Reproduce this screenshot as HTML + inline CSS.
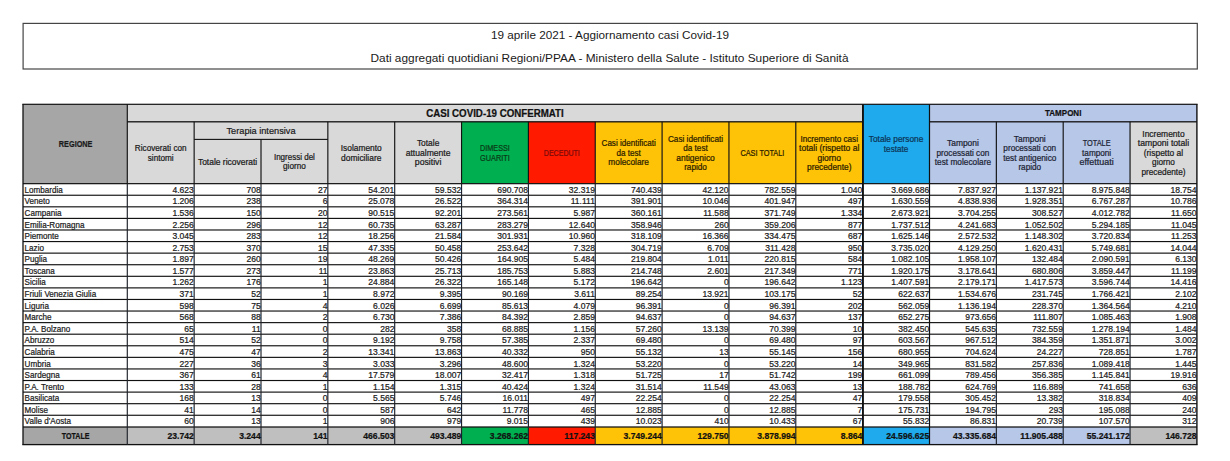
<!DOCTYPE html>
<html><head><meta charset="utf-8"><style>
html,body{margin:0;padding:0;background:#fff;}
body{width:1230px;height:461px;overflow:hidden;position:relative;}
svg{position:absolute;left:0;top:0;font-family:"Liberation Sans",sans-serif;}
text{stroke-width:0.22px;paint-order:stroke;}
</style></head><body>
<svg width="1230" height="461" viewBox="0 0 1230 461">
<rect x="0" y="0" width="1230" height="461" fill="#fff"/>
<rect x="23.1" y="23.4" width="1174.2" height="45.6" fill="none" stroke="#454545" stroke-width="1.2"/>
<text x="610" y="38.8" font-size="10.8" text-anchor="middle" fill="#1a1a1a" textLength="238" lengthAdjust="spacingAndGlyphs">19 aprile 2021 - Aggiornamento casi Covid-19</text>
<text x="609.5" y="61.8" font-size="10.5" text-anchor="middle" fill="#1a1a1a" textLength="478" lengthAdjust="spacingAndGlyphs">Dati aggregati quotidiani Regioni/PPAA - Ministero della Salute - Istituto Superiore di Sanità</text>
<rect x="23.0" y="104.3" width="104.30" height="79.36" fill="#a6a6a6"/>
<rect x="127.3" y="104.3" width="735.35" height="17.50" fill="#d9d9d9"/>
<rect x="929.4999999999999" y="104.3" width="267.40" height="17.50" fill="#b7c7e8"/>
<rect x="862.6499999999999" y="104.3" width="66.85" height="79.36" fill="#1eaaec"/>
<rect x="127.3" y="121.8" width="66.85" height="61.86" fill="#d9d9d9"/>
<rect x="194.14999999999998" y="121.8" width="66.85" height="61.86" fill="#d9d9d9"/>
<rect x="261.0" y="121.8" width="66.85" height="61.86" fill="#d9d9d9"/>
<rect x="327.84999999999997" y="121.8" width="66.85" height="61.86" fill="#d9d9d9"/>
<rect x="394.7" y="121.8" width="66.85" height="61.86" fill="#d9d9d9"/>
<rect x="461.55" y="121.8" width="66.85" height="61.86" fill="#00b050"/>
<rect x="528.4" y="121.8" width="66.85" height="61.86" fill="#ff1a00"/>
<rect x="595.2499999999999" y="121.8" width="66.85" height="61.86" fill="#fec206"/>
<rect x="662.0999999999999" y="121.8" width="66.85" height="61.86" fill="#fec206"/>
<rect x="728.9499999999999" y="121.8" width="66.85" height="61.86" fill="#fec206"/>
<rect x="795.8" y="121.8" width="66.85" height="61.86" fill="#fec206"/>
<rect x="929.4999999999999" y="121.8" width="66.85" height="61.86" fill="#b7c7e8"/>
<rect x="996.3499999999999" y="121.8" width="66.85" height="61.86" fill="#b7c7e8"/>
<rect x="1063.1999999999998" y="121.8" width="66.85" height="61.86" fill="#b7c7e8"/>
<rect x="1130.05" y="121.8" width="66.85" height="61.86" fill="#d9d9d9"/>
<rect x="23.0" y="427.0" width="104.30" height="17.60" fill="#a6a6a6"/>
<rect x="127.3" y="427.0" width="66.85" height="17.60" fill="#bfbfbf"/>
<rect x="194.14999999999998" y="427.0" width="66.85" height="17.60" fill="#bfbfbf"/>
<rect x="261.0" y="427.0" width="66.85" height="17.60" fill="#bfbfbf"/>
<rect x="327.84999999999997" y="427.0" width="66.85" height="17.60" fill="#bfbfbf"/>
<rect x="394.7" y="427.0" width="66.85" height="17.60" fill="#bfbfbf"/>
<rect x="461.55" y="427.0" width="66.85" height="17.60" fill="#00b050"/>
<rect x="528.4" y="427.0" width="66.85" height="17.60" fill="#ff1a00"/>
<rect x="595.2499999999999" y="427.0" width="66.85" height="17.60" fill="#fec206"/>
<rect x="662.0999999999999" y="427.0" width="66.85" height="17.60" fill="#fec206"/>
<rect x="728.9499999999999" y="427.0" width="66.85" height="17.60" fill="#fec206"/>
<rect x="795.8" y="427.0" width="66.85" height="17.60" fill="#fec206"/>
<rect x="862.6499999999999" y="427.0" width="66.85" height="17.60" fill="#1eaaec"/>
<rect x="929.4999999999999" y="427.0" width="66.85" height="17.60" fill="#b7c7e8"/>
<rect x="996.3499999999999" y="427.0" width="66.85" height="17.60" fill="#b7c7e8"/>
<rect x="1063.1999999999998" y="427.0" width="66.85" height="17.60" fill="#b7c7e8"/>
<rect x="1130.05" y="427.0" width="66.85" height="17.60" fill="#bfbfbf"/>
<rect x="22.3" y="103.70" width="1175.3" height="1.2" fill="#111"/>
<rect x="127.3" y="121.15" width="735.3499999999999" height="1.3" fill="#111"/>
<rect x="929.4999999999999" y="121.15" width="267.4" height="1.3" fill="#111"/>
<rect x="194.14999999999998" y="138.85" width="133.7" height="1.1" fill="#111"/>
<rect x="23.0" y="183.06" width="1173.8999999999999" height="1.2" fill="#111"/>
<rect x="23.0" y="194.67" width="1173.8999999999999" height="1.15" fill="#111"/>
<rect x="23.0" y="206.25" width="1173.8999999999999" height="1.15" fill="#111"/>
<rect x="23.0" y="217.83" width="1173.8999999999999" height="1.15" fill="#111"/>
<rect x="23.0" y="229.41" width="1173.8999999999999" height="1.15" fill="#111"/>
<rect x="23.0" y="240.99" width="1173.8999999999999" height="1.15" fill="#111"/>
<rect x="23.0" y="252.56" width="1173.8999999999999" height="1.15" fill="#111"/>
<rect x="23.0" y="264.15" width="1173.8999999999999" height="1.15" fill="#111"/>
<rect x="23.0" y="275.73" width="1173.8999999999999" height="1.15" fill="#111"/>
<rect x="23.0" y="287.31" width="1173.8999999999999" height="1.15" fill="#111"/>
<rect x="23.0" y="298.88" width="1173.8999999999999" height="1.15" fill="#111"/>
<rect x="23.0" y="310.46" width="1173.8999999999999" height="1.15" fill="#111"/>
<rect x="23.0" y="322.05" width="1173.8999999999999" height="1.15" fill="#111"/>
<rect x="23.0" y="333.62" width="1173.8999999999999" height="1.15" fill="#111"/>
<rect x="23.0" y="345.20" width="1173.8999999999999" height="1.15" fill="#111"/>
<rect x="23.0" y="356.79" width="1173.8999999999999" height="1.15" fill="#111"/>
<rect x="23.0" y="368.37" width="1173.8999999999999" height="1.15" fill="#111"/>
<rect x="23.0" y="379.94" width="1173.8999999999999" height="1.15" fill="#111"/>
<rect x="23.0" y="391.53" width="1173.8999999999999" height="1.15" fill="#111"/>
<rect x="23.0" y="403.11" width="1173.8999999999999" height="1.15" fill="#111"/>
<rect x="23.0" y="414.69" width="1173.8999999999999" height="1.15" fill="#111"/>
<rect x="23.0" y="426.38" width="1173.8999999999999" height="1.25" fill="#111"/>
<rect x="22.3" y="443.95" width="1175.3" height="1.3" fill="#111"/>
<rect x="22.35" y="104.3" width="1.3" height="340.30" fill="#111"/>
<rect x="1196.20" y="104.3" width="1.4" height="340.30" fill="#111"/>
<rect x="126.72" y="104.3" width="1.15" height="79.36" fill="#111"/>
<rect x="126.72" y="183.66" width="1.15" height="260.94" fill="#1e2229"/>
<rect x="193.57" y="121.8" width="1.15" height="61.86" fill="#111"/>
<rect x="193.57" y="183.66" width="1.15" height="260.94" fill="#1e2229"/>
<rect x="260.43" y="139.4" width="1.15" height="44.26" fill="#111"/>
<rect x="260.43" y="183.66" width="1.15" height="260.94" fill="#1e2229"/>
<rect x="327.27" y="121.8" width="1.15" height="61.86" fill="#111"/>
<rect x="327.27" y="183.66" width="1.15" height="260.94" fill="#1e2229"/>
<rect x="394.12" y="121.8" width="1.15" height="61.86" fill="#111"/>
<rect x="394.12" y="183.66" width="1.15" height="260.94" fill="#1e2229"/>
<rect x="460.98" y="121.8" width="1.15" height="61.86" fill="#111"/>
<rect x="460.98" y="183.66" width="1.15" height="260.94" fill="#1e2229"/>
<rect x="527.82" y="121.8" width="1.15" height="61.86" fill="#111"/>
<rect x="527.82" y="183.66" width="1.15" height="260.94" fill="#1e2229"/>
<rect x="594.67" y="121.8" width="1.15" height="61.86" fill="#111"/>
<rect x="594.67" y="183.66" width="1.15" height="260.94" fill="#1e2229"/>
<rect x="661.52" y="121.8" width="1.15" height="61.86" fill="#111"/>
<rect x="661.52" y="183.66" width="1.15" height="260.94" fill="#1e2229"/>
<rect x="728.37" y="121.8" width="1.15" height="61.86" fill="#111"/>
<rect x="728.37" y="183.66" width="1.15" height="260.94" fill="#1e2229"/>
<rect x="795.22" y="121.8" width="1.15" height="61.86" fill="#111"/>
<rect x="795.22" y="183.66" width="1.15" height="260.94" fill="#1e2229"/>
<rect x="862.00" y="104.3" width="1.9" height="340.30" fill="#111"/>
<rect x="928.90" y="104.3" width="1.2" height="340.30" fill="#111"/>
<rect x="995.77" y="121.8" width="1.15" height="61.86" fill="#111"/>
<rect x="995.77" y="183.66" width="1.15" height="260.94" fill="#1e2229"/>
<rect x="1062.62" y="121.8" width="1.15" height="61.86" fill="#111"/>
<rect x="1062.62" y="183.66" width="1.15" height="260.94" fill="#1e2229"/>
<rect x="1129.47" y="121.8" width="1.15" height="61.86" fill="#111"/>
<rect x="1129.47" y="183.66" width="1.15" height="260.94" fill="#1e2229"/>
<text x="75.65" y="147.20" font-size="9.6" text-anchor="middle" font-weight="bold" fill="#1a1a1a" stroke="#1a1a1a" textLength="33.6" lengthAdjust="spacingAndGlyphs">REGIONE</text>
<text x="494.97" y="116.60" font-size="10.0" text-anchor="middle" font-weight="bold" fill="#111" stroke="#111" textLength="137.6" lengthAdjust="spacingAndGlyphs">CASI COVID-19 CONFERMATI</text>
<text x="1063.20" y="116.40" font-size="9.0" text-anchor="middle" font-weight="bold" fill="#111" stroke="#111" textLength="36.4" lengthAdjust="spacingAndGlyphs">TAMPONI</text>
<text x="261.00" y="134.20" font-size="9.4" text-anchor="middle" fill="#1a1a1a" stroke="#1a1a1a" textLength="69.0" lengthAdjust="spacingAndGlyphs">Terapia intensiva</text>
<text x="160.72" y="151.20" font-size="8.2" text-anchor="middle" fill="#1a1a1a" stroke="#1a1a1a" textLength="51.7" lengthAdjust="spacingAndGlyphs">Ricoverati con</text>
<text x="160.72" y="160.65" font-size="8.2" text-anchor="middle" fill="#1a1a1a" stroke="#1a1a1a">sintomi</text>
<text x="227.57" y="164.73" font-size="8.2" text-anchor="middle" fill="#1a1a1a" stroke="#1a1a1a" textLength="59.3" lengthAdjust="spacingAndGlyphs">Totale ricoverati</text>
<text x="294.42" y="160.00" font-size="8.2" text-anchor="middle" fill="#1a1a1a" stroke="#1a1a1a" textLength="41.0" lengthAdjust="spacingAndGlyphs">Ingressi del</text>
<text x="294.42" y="169.45" font-size="8.2" text-anchor="middle" fill="#1a1a1a" stroke="#1a1a1a">giorno</text>
<text x="361.27" y="151.20" font-size="8.2" text-anchor="middle" fill="#1a1a1a" stroke="#1a1a1a" textLength="41.0" lengthAdjust="spacingAndGlyphs">Isolamento</text>
<text x="361.27" y="160.65" font-size="8.2" text-anchor="middle" fill="#1a1a1a" stroke="#1a1a1a" textLength="40.3" lengthAdjust="spacingAndGlyphs">domiciliare</text>
<text x="428.12" y="146.48" font-size="8.2" text-anchor="middle" fill="#1a1a1a" stroke="#1a1a1a" textLength="22.4" lengthAdjust="spacingAndGlyphs">Totale</text>
<text x="428.12" y="155.93" font-size="8.2" text-anchor="middle" fill="#1a1a1a" stroke="#1a1a1a" textLength="44.8" lengthAdjust="spacingAndGlyphs">attualmente</text>
<text x="428.12" y="165.38" font-size="8.2" text-anchor="middle" fill="#1a1a1a" stroke="#1a1a1a" textLength="26.6" lengthAdjust="spacingAndGlyphs">positivi</text>
<text x="494.98" y="151.20" font-size="8.2" text-anchor="middle" fill="#0a3a16" stroke="#0a3a16" textLength="29.8" lengthAdjust="spacingAndGlyphs">DIMESSI</text>
<text x="494.98" y="160.65" font-size="8.2" text-anchor="middle" fill="#0a3a16" stroke="#0a3a16" textLength="29.8" lengthAdjust="spacingAndGlyphs">GUARITI</text>
<text x="561.82" y="155.93" font-size="8.2" text-anchor="middle" fill="#7a0a0a" stroke="#7a0a0a" textLength="36.0" lengthAdjust="spacingAndGlyphs">DECEDUTI</text>
<text x="628.67" y="146.48" font-size="8.2" text-anchor="middle" fill="#2a2000" stroke="#2a2000" textLength="54.2" lengthAdjust="spacingAndGlyphs">Casi identificati</text>
<text x="628.67" y="155.93" font-size="8.2" text-anchor="middle" fill="#2a2000" stroke="#2a2000" textLength="24.4" lengthAdjust="spacingAndGlyphs">da test</text>
<text x="628.67" y="165.38" font-size="8.2" text-anchor="middle" fill="#2a2000" stroke="#2a2000" textLength="40.6" lengthAdjust="spacingAndGlyphs">molecolare</text>
<text x="695.52" y="141.75" font-size="8.2" text-anchor="middle" fill="#2a2000" stroke="#2a2000" textLength="55.2" lengthAdjust="spacingAndGlyphs">Casi identificati</text>
<text x="695.52" y="151.20" font-size="8.2" text-anchor="middle" fill="#2a2000" stroke="#2a2000" textLength="24.4" lengthAdjust="spacingAndGlyphs">da test</text>
<text x="695.52" y="160.65" font-size="8.2" text-anchor="middle" fill="#2a2000" stroke="#2a2000" textLength="38.6" lengthAdjust="spacingAndGlyphs">antigenico</text>
<text x="695.52" y="170.10" font-size="8.2" text-anchor="middle" fill="#2a2000" stroke="#2a2000">rapido</text>
<text x="762.38" y="155.93" font-size="8.2" text-anchor="middle" fill="#2a2000" stroke="#2a2000" textLength="44.0" lengthAdjust="spacingAndGlyphs">CASI TOTALI</text>
<text x="829.22" y="141.75" font-size="8.2" text-anchor="middle" fill="#2a2000" stroke="#2a2000" textLength="57.5" lengthAdjust="spacingAndGlyphs">Incremento casi</text>
<text x="829.22" y="151.20" font-size="8.2" text-anchor="middle" fill="#2a2000" stroke="#2a2000" textLength="60.2" lengthAdjust="spacingAndGlyphs">totali (rispetto al</text>
<text x="829.22" y="160.65" font-size="8.2" text-anchor="middle" fill="#2a2000" stroke="#2a2000" textLength="23.6" lengthAdjust="spacingAndGlyphs">giorno</text>
<text x="829.22" y="170.10" font-size="8.2" text-anchor="middle" fill="#2a2000" stroke="#2a2000" textLength="44.4" lengthAdjust="spacingAndGlyphs">precedente)</text>
<text x="896.07" y="142.45" font-size="8.2" text-anchor="middle" fill="#0c3457" stroke="#0c3457" textLength="54.4" lengthAdjust="spacingAndGlyphs">Totale persone</text>
<text x="896.07" y="151.90" font-size="8.2" text-anchor="middle" fill="#0c3457" stroke="#0c3457" textLength="24.4" lengthAdjust="spacingAndGlyphs">testate</text>
<text x="962.92" y="146.48" font-size="8.2" text-anchor="middle" fill="#1c2434" stroke="#1c2434" textLength="31.9" lengthAdjust="spacingAndGlyphs">Tamponi</text>
<text x="962.92" y="155.93" font-size="8.2" text-anchor="middle" fill="#1c2434" stroke="#1c2434" textLength="52.8" lengthAdjust="spacingAndGlyphs">processati con</text>
<text x="962.92" y="165.38" font-size="8.2" text-anchor="middle" fill="#1c2434" stroke="#1c2434" textLength="56.2" lengthAdjust="spacingAndGlyphs">test molecolare</text>
<text x="1029.77" y="141.75" font-size="8.2" text-anchor="middle" fill="#1c2434" stroke="#1c2434" textLength="31.9" lengthAdjust="spacingAndGlyphs">Tamponi</text>
<text x="1029.77" y="151.20" font-size="8.2" text-anchor="middle" fill="#1c2434" stroke="#1c2434" textLength="52.8" lengthAdjust="spacingAndGlyphs">processati con</text>
<text x="1029.77" y="160.65" font-size="8.2" text-anchor="middle" fill="#1c2434" stroke="#1c2434" textLength="53.2" lengthAdjust="spacingAndGlyphs">test antigenico</text>
<text x="1029.77" y="170.10" font-size="8.2" text-anchor="middle" fill="#1c2434" stroke="#1c2434">rapido</text>
<text x="1096.62" y="146.48" font-size="8.2" text-anchor="middle" fill="#1c2434" stroke="#1c2434" textLength="27.9" lengthAdjust="spacingAndGlyphs">TOTALE</text>
<text x="1096.62" y="155.93" font-size="8.2" text-anchor="middle" fill="#1c2434" stroke="#1c2434">tamponi</text>
<text x="1096.62" y="165.38" font-size="8.2" text-anchor="middle" fill="#1c2434" stroke="#1c2434" textLength="34.1" lengthAdjust="spacingAndGlyphs">effettuati</text>
<text x="1163.47" y="137.03" font-size="8.2" text-anchor="middle" fill="#1a1a1a" stroke="#1a1a1a" textLength="42.3" lengthAdjust="spacingAndGlyphs">Incremento</text>
<text x="1163.47" y="146.48" font-size="8.2" text-anchor="middle" fill="#1a1a1a" stroke="#1a1a1a" textLength="51.4" lengthAdjust="spacingAndGlyphs">tamponi totali</text>
<text x="1163.47" y="155.93" font-size="8.2" text-anchor="middle" fill="#1a1a1a" stroke="#1a1a1a" textLength="39.5" lengthAdjust="spacingAndGlyphs">(rispetto al</text>
<text x="1163.47" y="165.38" font-size="8.2" text-anchor="middle" fill="#1a1a1a" stroke="#1a1a1a">giorno</text>
<text x="1163.47" y="174.83" font-size="8.2" text-anchor="middle" fill="#1a1a1a" stroke="#1a1a1a" textLength="44.1" lengthAdjust="spacingAndGlyphs">precedente)</text>
<text transform="translate(24.60 192.84) scale(0.953 1)" font-size="8.5" text-anchor="start" fill="#1a1a1a" stroke="#1a1a1a" stroke-width="0.12">Lombardia</text>
<text x="193.85" y="192.84" font-size="8.55" text-anchor="end" fill="#1a1a1a" stroke="#1a1a1a" stroke-width="0.1">4.623</text>
<text x="260.70" y="192.84" font-size="8.55" text-anchor="end" fill="#1a1a1a" stroke="#1a1a1a" stroke-width="0.1">708</text>
<text x="327.55" y="192.84" font-size="8.55" text-anchor="end" fill="#1a1a1a" stroke="#1a1a1a" stroke-width="0.1">27</text>
<text x="394.40" y="192.84" font-size="8.55" text-anchor="end" fill="#1a1a1a" stroke="#1a1a1a" stroke-width="0.1">54.201</text>
<text x="461.25" y="192.84" font-size="8.55" text-anchor="end" fill="#1a1a1a" stroke="#1a1a1a" stroke-width="0.1">59.532</text>
<text x="528.10" y="192.84" font-size="8.55" text-anchor="end" fill="#1a1a1a" stroke="#1a1a1a" stroke-width="0.1">690.708</text>
<text x="594.95" y="192.84" font-size="8.55" text-anchor="end" fill="#1a1a1a" stroke="#1a1a1a" stroke-width="0.1">32.319</text>
<text x="661.80" y="192.84" font-size="8.55" text-anchor="end" fill="#1a1a1a" stroke="#1a1a1a" stroke-width="0.1">740.439</text>
<text x="728.65" y="192.84" font-size="8.55" text-anchor="end" fill="#1a1a1a" stroke="#1a1a1a" stroke-width="0.1">42.120</text>
<text x="795.50" y="192.84" font-size="8.55" text-anchor="end" fill="#1a1a1a" stroke="#1a1a1a" stroke-width="0.1">782.559</text>
<text x="862.35" y="192.84" font-size="8.55" text-anchor="end" fill="#1a1a1a" stroke="#1a1a1a" stroke-width="0.1">1.040</text>
<text x="929.20" y="192.84" font-size="8.55" text-anchor="end" fill="#1a1a1a" stroke="#1a1a1a" stroke-width="0.1">3.669.686</text>
<text x="996.05" y="192.84" font-size="8.55" text-anchor="end" fill="#1a1a1a" stroke="#1a1a1a" stroke-width="0.1">7.837.927</text>
<text x="1062.90" y="192.84" font-size="8.55" text-anchor="end" fill="#1a1a1a" stroke="#1a1a1a" stroke-width="0.1">1.137.921</text>
<text x="1129.75" y="192.84" font-size="8.55" text-anchor="end" fill="#1a1a1a" stroke="#1a1a1a" stroke-width="0.1">8.975.848</text>
<text x="1196.60" y="192.84" font-size="8.55" text-anchor="end" fill="#1a1a1a" stroke="#1a1a1a" stroke-width="0.1">18.754</text>
<text transform="translate(24.60 204.42) scale(0.953 1)" font-size="8.5" text-anchor="start" fill="#1a1a1a" stroke="#1a1a1a" stroke-width="0.12">Veneto</text>
<text x="193.85" y="204.42" font-size="8.55" text-anchor="end" fill="#1a1a1a" stroke="#1a1a1a" stroke-width="0.1">1.206</text>
<text x="260.70" y="204.42" font-size="8.55" text-anchor="end" fill="#1a1a1a" stroke="#1a1a1a" stroke-width="0.1">238</text>
<text x="327.55" y="204.42" font-size="8.55" text-anchor="end" fill="#1a1a1a" stroke="#1a1a1a" stroke-width="0.1">6</text>
<text x="394.40" y="204.42" font-size="8.55" text-anchor="end" fill="#1a1a1a" stroke="#1a1a1a" stroke-width="0.1">25.078</text>
<text x="461.25" y="204.42" font-size="8.55" text-anchor="end" fill="#1a1a1a" stroke="#1a1a1a" stroke-width="0.1">26.522</text>
<text x="528.10" y="204.42" font-size="8.55" text-anchor="end" fill="#1a1a1a" stroke="#1a1a1a" stroke-width="0.1">364.314</text>
<text x="594.95" y="204.42" font-size="8.55" text-anchor="end" fill="#1a1a1a" stroke="#1a1a1a" stroke-width="0.1">11.111</text>
<text x="661.80" y="204.42" font-size="8.55" text-anchor="end" fill="#1a1a1a" stroke="#1a1a1a" stroke-width="0.1">391.901</text>
<text x="728.65" y="204.42" font-size="8.55" text-anchor="end" fill="#1a1a1a" stroke="#1a1a1a" stroke-width="0.1">10.046</text>
<text x="795.50" y="204.42" font-size="8.55" text-anchor="end" fill="#1a1a1a" stroke="#1a1a1a" stroke-width="0.1">401.947</text>
<text x="862.35" y="204.42" font-size="8.55" text-anchor="end" fill="#1a1a1a" stroke="#1a1a1a" stroke-width="0.1">497</text>
<text x="929.20" y="204.42" font-size="8.55" text-anchor="end" fill="#1a1a1a" stroke="#1a1a1a" stroke-width="0.1">1.630.559</text>
<text x="996.05" y="204.42" font-size="8.55" text-anchor="end" fill="#1a1a1a" stroke="#1a1a1a" stroke-width="0.1">4.838.936</text>
<text x="1062.90" y="204.42" font-size="8.55" text-anchor="end" fill="#1a1a1a" stroke="#1a1a1a" stroke-width="0.1">1.928.351</text>
<text x="1129.75" y="204.42" font-size="8.55" text-anchor="end" fill="#1a1a1a" stroke="#1a1a1a" stroke-width="0.1">6.767.287</text>
<text x="1196.60" y="204.42" font-size="8.55" text-anchor="end" fill="#1a1a1a" stroke="#1a1a1a" stroke-width="0.1">10.786</text>
<text transform="translate(24.60 216.00) scale(0.953 1)" font-size="8.5" text-anchor="start" fill="#1a1a1a" stroke="#1a1a1a" stroke-width="0.12">Campania</text>
<text x="193.85" y="216.00" font-size="8.55" text-anchor="end" fill="#1a1a1a" stroke="#1a1a1a" stroke-width="0.1">1.536</text>
<text x="260.70" y="216.00" font-size="8.55" text-anchor="end" fill="#1a1a1a" stroke="#1a1a1a" stroke-width="0.1">150</text>
<text x="327.55" y="216.00" font-size="8.55" text-anchor="end" fill="#1a1a1a" stroke="#1a1a1a" stroke-width="0.1">20</text>
<text x="394.40" y="216.00" font-size="8.55" text-anchor="end" fill="#1a1a1a" stroke="#1a1a1a" stroke-width="0.1">90.515</text>
<text x="461.25" y="216.00" font-size="8.55" text-anchor="end" fill="#1a1a1a" stroke="#1a1a1a" stroke-width="0.1">92.201</text>
<text x="528.10" y="216.00" font-size="8.55" text-anchor="end" fill="#1a1a1a" stroke="#1a1a1a" stroke-width="0.1">273.561</text>
<text x="594.95" y="216.00" font-size="8.55" text-anchor="end" fill="#1a1a1a" stroke="#1a1a1a" stroke-width="0.1">5.987</text>
<text x="661.80" y="216.00" font-size="8.55" text-anchor="end" fill="#1a1a1a" stroke="#1a1a1a" stroke-width="0.1">360.161</text>
<text x="728.65" y="216.00" font-size="8.55" text-anchor="end" fill="#1a1a1a" stroke="#1a1a1a" stroke-width="0.1">11.588</text>
<text x="795.50" y="216.00" font-size="8.55" text-anchor="end" fill="#1a1a1a" stroke="#1a1a1a" stroke-width="0.1">371.749</text>
<text x="862.35" y="216.00" font-size="8.55" text-anchor="end" fill="#1a1a1a" stroke="#1a1a1a" stroke-width="0.1">1.334</text>
<text x="929.20" y="216.00" font-size="8.55" text-anchor="end" fill="#1a1a1a" stroke="#1a1a1a" stroke-width="0.1">2.673.921</text>
<text x="996.05" y="216.00" font-size="8.55" text-anchor="end" fill="#1a1a1a" stroke="#1a1a1a" stroke-width="0.1">3.704.255</text>
<text x="1062.90" y="216.00" font-size="8.55" text-anchor="end" fill="#1a1a1a" stroke="#1a1a1a" stroke-width="0.1">308.527</text>
<text x="1129.75" y="216.00" font-size="8.55" text-anchor="end" fill="#1a1a1a" stroke="#1a1a1a" stroke-width="0.1">4.012.782</text>
<text x="1196.60" y="216.00" font-size="8.55" text-anchor="end" fill="#1a1a1a" stroke="#1a1a1a" stroke-width="0.1">11.650</text>
<text transform="translate(24.60 227.58) scale(0.953 1)" font-size="8.5" text-anchor="start" fill="#1a1a1a" stroke="#1a1a1a" stroke-width="0.12">Emilia-Romagna</text>
<text x="193.85" y="227.58" font-size="8.55" text-anchor="end" fill="#1a1a1a" stroke="#1a1a1a" stroke-width="0.1">2.256</text>
<text x="260.70" y="227.58" font-size="8.55" text-anchor="end" fill="#1a1a1a" stroke="#1a1a1a" stroke-width="0.1">296</text>
<text x="327.55" y="227.58" font-size="8.55" text-anchor="end" fill="#1a1a1a" stroke="#1a1a1a" stroke-width="0.1">12</text>
<text x="394.40" y="227.58" font-size="8.55" text-anchor="end" fill="#1a1a1a" stroke="#1a1a1a" stroke-width="0.1">60.735</text>
<text x="461.25" y="227.58" font-size="8.55" text-anchor="end" fill="#1a1a1a" stroke="#1a1a1a" stroke-width="0.1">63.287</text>
<text x="528.10" y="227.58" font-size="8.55" text-anchor="end" fill="#1a1a1a" stroke="#1a1a1a" stroke-width="0.1">283.279</text>
<text x="594.95" y="227.58" font-size="8.55" text-anchor="end" fill="#1a1a1a" stroke="#1a1a1a" stroke-width="0.1">12.640</text>
<text x="661.80" y="227.58" font-size="8.55" text-anchor="end" fill="#1a1a1a" stroke="#1a1a1a" stroke-width="0.1">358.946</text>
<text x="728.65" y="227.58" font-size="8.55" text-anchor="end" fill="#1a1a1a" stroke="#1a1a1a" stroke-width="0.1">260</text>
<text x="795.50" y="227.58" font-size="8.55" text-anchor="end" fill="#1a1a1a" stroke="#1a1a1a" stroke-width="0.1">359.206</text>
<text x="862.35" y="227.58" font-size="8.55" text-anchor="end" fill="#1a1a1a" stroke="#1a1a1a" stroke-width="0.1">877</text>
<text x="929.20" y="227.58" font-size="8.55" text-anchor="end" fill="#1a1a1a" stroke="#1a1a1a" stroke-width="0.1">1.737.512</text>
<text x="996.05" y="227.58" font-size="8.55" text-anchor="end" fill="#1a1a1a" stroke="#1a1a1a" stroke-width="0.1">4.241.683</text>
<text x="1062.90" y="227.58" font-size="8.55" text-anchor="end" fill="#1a1a1a" stroke="#1a1a1a" stroke-width="0.1">1.052.502</text>
<text x="1129.75" y="227.58" font-size="8.55" text-anchor="end" fill="#1a1a1a" stroke="#1a1a1a" stroke-width="0.1">5.294.185</text>
<text x="1196.60" y="227.58" font-size="8.55" text-anchor="end" fill="#1a1a1a" stroke="#1a1a1a" stroke-width="0.1">11.045</text>
<text transform="translate(24.60 239.16) scale(0.953 1)" font-size="8.5" text-anchor="start" fill="#1a1a1a" stroke="#1a1a1a" stroke-width="0.12">Piemonte</text>
<text x="193.85" y="239.16" font-size="8.55" text-anchor="end" fill="#1a1a1a" stroke="#1a1a1a" stroke-width="0.1">3.045</text>
<text x="260.70" y="239.16" font-size="8.55" text-anchor="end" fill="#1a1a1a" stroke="#1a1a1a" stroke-width="0.1">283</text>
<text x="327.55" y="239.16" font-size="8.55" text-anchor="end" fill="#1a1a1a" stroke="#1a1a1a" stroke-width="0.1">12</text>
<text x="394.40" y="239.16" font-size="8.55" text-anchor="end" fill="#1a1a1a" stroke="#1a1a1a" stroke-width="0.1">18.256</text>
<text x="461.25" y="239.16" font-size="8.55" text-anchor="end" fill="#1a1a1a" stroke="#1a1a1a" stroke-width="0.1">21.584</text>
<text x="528.10" y="239.16" font-size="8.55" text-anchor="end" fill="#1a1a1a" stroke="#1a1a1a" stroke-width="0.1">301.931</text>
<text x="594.95" y="239.16" font-size="8.55" text-anchor="end" fill="#1a1a1a" stroke="#1a1a1a" stroke-width="0.1">10.960</text>
<text x="661.80" y="239.16" font-size="8.55" text-anchor="end" fill="#1a1a1a" stroke="#1a1a1a" stroke-width="0.1">318.109</text>
<text x="728.65" y="239.16" font-size="8.55" text-anchor="end" fill="#1a1a1a" stroke="#1a1a1a" stroke-width="0.1">16.366</text>
<text x="795.50" y="239.16" font-size="8.55" text-anchor="end" fill="#1a1a1a" stroke="#1a1a1a" stroke-width="0.1">334.475</text>
<text x="862.35" y="239.16" font-size="8.55" text-anchor="end" fill="#1a1a1a" stroke="#1a1a1a" stroke-width="0.1">687</text>
<text x="929.20" y="239.16" font-size="8.55" text-anchor="end" fill="#1a1a1a" stroke="#1a1a1a" stroke-width="0.1">1.625.146</text>
<text x="996.05" y="239.16" font-size="8.55" text-anchor="end" fill="#1a1a1a" stroke="#1a1a1a" stroke-width="0.1">2.572.532</text>
<text x="1062.90" y="239.16" font-size="8.55" text-anchor="end" fill="#1a1a1a" stroke="#1a1a1a" stroke-width="0.1">1.148.302</text>
<text x="1129.75" y="239.16" font-size="8.55" text-anchor="end" fill="#1a1a1a" stroke="#1a1a1a" stroke-width="0.1">3.720.834</text>
<text x="1196.60" y="239.16" font-size="8.55" text-anchor="end" fill="#1a1a1a" stroke="#1a1a1a" stroke-width="0.1">11.253</text>
<text transform="translate(24.60 250.74) scale(0.953 1)" font-size="8.5" text-anchor="start" fill="#1a1a1a" stroke="#1a1a1a" stroke-width="0.12">Lazio</text>
<text x="193.85" y="250.74" font-size="8.55" text-anchor="end" fill="#1a1a1a" stroke="#1a1a1a" stroke-width="0.1">2.753</text>
<text x="260.70" y="250.74" font-size="8.55" text-anchor="end" fill="#1a1a1a" stroke="#1a1a1a" stroke-width="0.1">370</text>
<text x="327.55" y="250.74" font-size="8.55" text-anchor="end" fill="#1a1a1a" stroke="#1a1a1a" stroke-width="0.1">15</text>
<text x="394.40" y="250.74" font-size="8.55" text-anchor="end" fill="#1a1a1a" stroke="#1a1a1a" stroke-width="0.1">47.335</text>
<text x="461.25" y="250.74" font-size="8.55" text-anchor="end" fill="#1a1a1a" stroke="#1a1a1a" stroke-width="0.1">50.458</text>
<text x="528.10" y="250.74" font-size="8.55" text-anchor="end" fill="#1a1a1a" stroke="#1a1a1a" stroke-width="0.1">253.642</text>
<text x="594.95" y="250.74" font-size="8.55" text-anchor="end" fill="#1a1a1a" stroke="#1a1a1a" stroke-width="0.1">7.328</text>
<text x="661.80" y="250.74" font-size="8.55" text-anchor="end" fill="#1a1a1a" stroke="#1a1a1a" stroke-width="0.1">304.719</text>
<text x="728.65" y="250.74" font-size="8.55" text-anchor="end" fill="#1a1a1a" stroke="#1a1a1a" stroke-width="0.1">6.709</text>
<text x="795.50" y="250.74" font-size="8.55" text-anchor="end" fill="#1a1a1a" stroke="#1a1a1a" stroke-width="0.1">311.428</text>
<text x="862.35" y="250.74" font-size="8.55" text-anchor="end" fill="#1a1a1a" stroke="#1a1a1a" stroke-width="0.1">950</text>
<text x="929.20" y="250.74" font-size="8.55" text-anchor="end" fill="#1a1a1a" stroke="#1a1a1a" stroke-width="0.1">3.735.020</text>
<text x="996.05" y="250.74" font-size="8.55" text-anchor="end" fill="#1a1a1a" stroke="#1a1a1a" stroke-width="0.1">4.129.250</text>
<text x="1062.90" y="250.74" font-size="8.55" text-anchor="end" fill="#1a1a1a" stroke="#1a1a1a" stroke-width="0.1">1.620.431</text>
<text x="1129.75" y="250.74" font-size="8.55" text-anchor="end" fill="#1a1a1a" stroke="#1a1a1a" stroke-width="0.1">5.749.681</text>
<text x="1196.60" y="250.74" font-size="8.55" text-anchor="end" fill="#1a1a1a" stroke="#1a1a1a" stroke-width="0.1">14.044</text>
<text transform="translate(24.60 262.32) scale(0.953 1)" font-size="8.5" text-anchor="start" fill="#1a1a1a" stroke="#1a1a1a" stroke-width="0.12">Puglia</text>
<text x="193.85" y="262.32" font-size="8.55" text-anchor="end" fill="#1a1a1a" stroke="#1a1a1a" stroke-width="0.1">1.897</text>
<text x="260.70" y="262.32" font-size="8.55" text-anchor="end" fill="#1a1a1a" stroke="#1a1a1a" stroke-width="0.1">260</text>
<text x="327.55" y="262.32" font-size="8.55" text-anchor="end" fill="#1a1a1a" stroke="#1a1a1a" stroke-width="0.1">19</text>
<text x="394.40" y="262.32" font-size="8.55" text-anchor="end" fill="#1a1a1a" stroke="#1a1a1a" stroke-width="0.1">48.269</text>
<text x="461.25" y="262.32" font-size="8.55" text-anchor="end" fill="#1a1a1a" stroke="#1a1a1a" stroke-width="0.1">50.426</text>
<text x="528.10" y="262.32" font-size="8.55" text-anchor="end" fill="#1a1a1a" stroke="#1a1a1a" stroke-width="0.1">164.905</text>
<text x="594.95" y="262.32" font-size="8.55" text-anchor="end" fill="#1a1a1a" stroke="#1a1a1a" stroke-width="0.1">5.484</text>
<text x="661.80" y="262.32" font-size="8.55" text-anchor="end" fill="#1a1a1a" stroke="#1a1a1a" stroke-width="0.1">219.804</text>
<text x="728.65" y="262.32" font-size="8.55" text-anchor="end" fill="#1a1a1a" stroke="#1a1a1a" stroke-width="0.1">1.011</text>
<text x="795.50" y="262.32" font-size="8.55" text-anchor="end" fill="#1a1a1a" stroke="#1a1a1a" stroke-width="0.1">220.815</text>
<text x="862.35" y="262.32" font-size="8.55" text-anchor="end" fill="#1a1a1a" stroke="#1a1a1a" stroke-width="0.1">584</text>
<text x="929.20" y="262.32" font-size="8.55" text-anchor="end" fill="#1a1a1a" stroke="#1a1a1a" stroke-width="0.1">1.082.105</text>
<text x="996.05" y="262.32" font-size="8.55" text-anchor="end" fill="#1a1a1a" stroke="#1a1a1a" stroke-width="0.1">1.958.107</text>
<text x="1062.90" y="262.32" font-size="8.55" text-anchor="end" fill="#1a1a1a" stroke="#1a1a1a" stroke-width="0.1">132.484</text>
<text x="1129.75" y="262.32" font-size="8.55" text-anchor="end" fill="#1a1a1a" stroke="#1a1a1a" stroke-width="0.1">2.090.591</text>
<text x="1196.60" y="262.32" font-size="8.55" text-anchor="end" fill="#1a1a1a" stroke="#1a1a1a" stroke-width="0.1">6.130</text>
<text transform="translate(24.60 273.90) scale(0.953 1)" font-size="8.5" text-anchor="start" fill="#1a1a1a" stroke="#1a1a1a" stroke-width="0.12">Toscana</text>
<text x="193.85" y="273.90" font-size="8.55" text-anchor="end" fill="#1a1a1a" stroke="#1a1a1a" stroke-width="0.1">1.577</text>
<text x="260.70" y="273.90" font-size="8.55" text-anchor="end" fill="#1a1a1a" stroke="#1a1a1a" stroke-width="0.1">273</text>
<text x="327.55" y="273.90" font-size="8.55" text-anchor="end" fill="#1a1a1a" stroke="#1a1a1a" stroke-width="0.1">11</text>
<text x="394.40" y="273.90" font-size="8.55" text-anchor="end" fill="#1a1a1a" stroke="#1a1a1a" stroke-width="0.1">23.863</text>
<text x="461.25" y="273.90" font-size="8.55" text-anchor="end" fill="#1a1a1a" stroke="#1a1a1a" stroke-width="0.1">25.713</text>
<text x="528.10" y="273.90" font-size="8.55" text-anchor="end" fill="#1a1a1a" stroke="#1a1a1a" stroke-width="0.1">185.753</text>
<text x="594.95" y="273.90" font-size="8.55" text-anchor="end" fill="#1a1a1a" stroke="#1a1a1a" stroke-width="0.1">5.883</text>
<text x="661.80" y="273.90" font-size="8.55" text-anchor="end" fill="#1a1a1a" stroke="#1a1a1a" stroke-width="0.1">214.748</text>
<text x="728.65" y="273.90" font-size="8.55" text-anchor="end" fill="#1a1a1a" stroke="#1a1a1a" stroke-width="0.1">2.601</text>
<text x="795.50" y="273.90" font-size="8.55" text-anchor="end" fill="#1a1a1a" stroke="#1a1a1a" stroke-width="0.1">217.349</text>
<text x="862.35" y="273.90" font-size="8.55" text-anchor="end" fill="#1a1a1a" stroke="#1a1a1a" stroke-width="0.1">771</text>
<text x="929.20" y="273.90" font-size="8.55" text-anchor="end" fill="#1a1a1a" stroke="#1a1a1a" stroke-width="0.1">1.920.175</text>
<text x="996.05" y="273.90" font-size="8.55" text-anchor="end" fill="#1a1a1a" stroke="#1a1a1a" stroke-width="0.1">3.178.641</text>
<text x="1062.90" y="273.90" font-size="8.55" text-anchor="end" fill="#1a1a1a" stroke="#1a1a1a" stroke-width="0.1">680.806</text>
<text x="1129.75" y="273.90" font-size="8.55" text-anchor="end" fill="#1a1a1a" stroke="#1a1a1a" stroke-width="0.1">3.859.447</text>
<text x="1196.60" y="273.90" font-size="8.55" text-anchor="end" fill="#1a1a1a" stroke="#1a1a1a" stroke-width="0.1">11.199</text>
<text transform="translate(24.60 285.48) scale(0.953 1)" font-size="8.5" text-anchor="start" fill="#1a1a1a" stroke="#1a1a1a" stroke-width="0.12">Sicilia</text>
<text x="193.85" y="285.48" font-size="8.55" text-anchor="end" fill="#1a1a1a" stroke="#1a1a1a" stroke-width="0.1">1.262</text>
<text x="260.70" y="285.48" font-size="8.55" text-anchor="end" fill="#1a1a1a" stroke="#1a1a1a" stroke-width="0.1">176</text>
<text x="327.55" y="285.48" font-size="8.55" text-anchor="end" fill="#1a1a1a" stroke="#1a1a1a" stroke-width="0.1">1</text>
<text x="394.40" y="285.48" font-size="8.55" text-anchor="end" fill="#1a1a1a" stroke="#1a1a1a" stroke-width="0.1">24.884</text>
<text x="461.25" y="285.48" font-size="8.55" text-anchor="end" fill="#1a1a1a" stroke="#1a1a1a" stroke-width="0.1">26.322</text>
<text x="528.10" y="285.48" font-size="8.55" text-anchor="end" fill="#1a1a1a" stroke="#1a1a1a" stroke-width="0.1">165.148</text>
<text x="594.95" y="285.48" font-size="8.55" text-anchor="end" fill="#1a1a1a" stroke="#1a1a1a" stroke-width="0.1">5.172</text>
<text x="661.80" y="285.48" font-size="8.55" text-anchor="end" fill="#1a1a1a" stroke="#1a1a1a" stroke-width="0.1">196.642</text>
<text x="728.65" y="285.48" font-size="8.55" text-anchor="end" fill="#1a1a1a" stroke="#1a1a1a" stroke-width="0.1">0</text>
<text x="795.50" y="285.48" font-size="8.55" text-anchor="end" fill="#1a1a1a" stroke="#1a1a1a" stroke-width="0.1">196.642</text>
<text x="862.35" y="285.48" font-size="8.55" text-anchor="end" fill="#1a1a1a" stroke="#1a1a1a" stroke-width="0.1">1.123</text>
<text x="929.20" y="285.48" font-size="8.55" text-anchor="end" fill="#1a1a1a" stroke="#1a1a1a" stroke-width="0.1">1.407.591</text>
<text x="996.05" y="285.48" font-size="8.55" text-anchor="end" fill="#1a1a1a" stroke="#1a1a1a" stroke-width="0.1">2.179.171</text>
<text x="1062.90" y="285.48" font-size="8.55" text-anchor="end" fill="#1a1a1a" stroke="#1a1a1a" stroke-width="0.1">1.417.573</text>
<text x="1129.75" y="285.48" font-size="8.55" text-anchor="end" fill="#1a1a1a" stroke="#1a1a1a" stroke-width="0.1">3.596.744</text>
<text x="1196.60" y="285.48" font-size="8.55" text-anchor="end" fill="#1a1a1a" stroke="#1a1a1a" stroke-width="0.1">14.416</text>
<text transform="translate(24.60 297.06) scale(0.953 1)" font-size="8.5" text-anchor="start" fill="#1a1a1a" stroke="#1a1a1a" stroke-width="0.12">Friuli Venezia Giulia</text>
<text x="193.85" y="297.06" font-size="8.55" text-anchor="end" fill="#1a1a1a" stroke="#1a1a1a" stroke-width="0.1">371</text>
<text x="260.70" y="297.06" font-size="8.55" text-anchor="end" fill="#1a1a1a" stroke="#1a1a1a" stroke-width="0.1">52</text>
<text x="327.55" y="297.06" font-size="8.55" text-anchor="end" fill="#1a1a1a" stroke="#1a1a1a" stroke-width="0.1">1</text>
<text x="394.40" y="297.06" font-size="8.55" text-anchor="end" fill="#1a1a1a" stroke="#1a1a1a" stroke-width="0.1">8.972</text>
<text x="461.25" y="297.06" font-size="8.55" text-anchor="end" fill="#1a1a1a" stroke="#1a1a1a" stroke-width="0.1">9.395</text>
<text x="528.10" y="297.06" font-size="8.55" text-anchor="end" fill="#1a1a1a" stroke="#1a1a1a" stroke-width="0.1">90.169</text>
<text x="594.95" y="297.06" font-size="8.55" text-anchor="end" fill="#1a1a1a" stroke="#1a1a1a" stroke-width="0.1">3.611</text>
<text x="661.80" y="297.06" font-size="8.55" text-anchor="end" fill="#1a1a1a" stroke="#1a1a1a" stroke-width="0.1">89.254</text>
<text x="728.65" y="297.06" font-size="8.55" text-anchor="end" fill="#1a1a1a" stroke="#1a1a1a" stroke-width="0.1">13.921</text>
<text x="795.50" y="297.06" font-size="8.55" text-anchor="end" fill="#1a1a1a" stroke="#1a1a1a" stroke-width="0.1">103.175</text>
<text x="862.35" y="297.06" font-size="8.55" text-anchor="end" fill="#1a1a1a" stroke="#1a1a1a" stroke-width="0.1">52</text>
<text x="929.20" y="297.06" font-size="8.55" text-anchor="end" fill="#1a1a1a" stroke="#1a1a1a" stroke-width="0.1">622.637</text>
<text x="996.05" y="297.06" font-size="8.55" text-anchor="end" fill="#1a1a1a" stroke="#1a1a1a" stroke-width="0.1">1.534.676</text>
<text x="1062.90" y="297.06" font-size="8.55" text-anchor="end" fill="#1a1a1a" stroke="#1a1a1a" stroke-width="0.1">231.745</text>
<text x="1129.75" y="297.06" font-size="8.55" text-anchor="end" fill="#1a1a1a" stroke="#1a1a1a" stroke-width="0.1">1.766.421</text>
<text x="1196.60" y="297.06" font-size="8.55" text-anchor="end" fill="#1a1a1a" stroke="#1a1a1a" stroke-width="0.1">2.102</text>
<text transform="translate(24.60 308.64) scale(0.953 1)" font-size="8.5" text-anchor="start" fill="#1a1a1a" stroke="#1a1a1a" stroke-width="0.12">Liguria</text>
<text x="193.85" y="308.64" font-size="8.55" text-anchor="end" fill="#1a1a1a" stroke="#1a1a1a" stroke-width="0.1">598</text>
<text x="260.70" y="308.64" font-size="8.55" text-anchor="end" fill="#1a1a1a" stroke="#1a1a1a" stroke-width="0.1">75</text>
<text x="327.55" y="308.64" font-size="8.55" text-anchor="end" fill="#1a1a1a" stroke="#1a1a1a" stroke-width="0.1">4</text>
<text x="394.40" y="308.64" font-size="8.55" text-anchor="end" fill="#1a1a1a" stroke="#1a1a1a" stroke-width="0.1">6.026</text>
<text x="461.25" y="308.64" font-size="8.55" text-anchor="end" fill="#1a1a1a" stroke="#1a1a1a" stroke-width="0.1">6.699</text>
<text x="528.10" y="308.64" font-size="8.55" text-anchor="end" fill="#1a1a1a" stroke="#1a1a1a" stroke-width="0.1">85.613</text>
<text x="594.95" y="308.64" font-size="8.55" text-anchor="end" fill="#1a1a1a" stroke="#1a1a1a" stroke-width="0.1">4.079</text>
<text x="661.80" y="308.64" font-size="8.55" text-anchor="end" fill="#1a1a1a" stroke="#1a1a1a" stroke-width="0.1">96.391</text>
<text x="728.65" y="308.64" font-size="8.55" text-anchor="end" fill="#1a1a1a" stroke="#1a1a1a" stroke-width="0.1">0</text>
<text x="795.50" y="308.64" font-size="8.55" text-anchor="end" fill="#1a1a1a" stroke="#1a1a1a" stroke-width="0.1">96.391</text>
<text x="862.35" y="308.64" font-size="8.55" text-anchor="end" fill="#1a1a1a" stroke="#1a1a1a" stroke-width="0.1">202</text>
<text x="929.20" y="308.64" font-size="8.55" text-anchor="end" fill="#1a1a1a" stroke="#1a1a1a" stroke-width="0.1">562.059</text>
<text x="996.05" y="308.64" font-size="8.55" text-anchor="end" fill="#1a1a1a" stroke="#1a1a1a" stroke-width="0.1">1.136.194</text>
<text x="1062.90" y="308.64" font-size="8.55" text-anchor="end" fill="#1a1a1a" stroke="#1a1a1a" stroke-width="0.1">228.370</text>
<text x="1129.75" y="308.64" font-size="8.55" text-anchor="end" fill="#1a1a1a" stroke="#1a1a1a" stroke-width="0.1">1.364.564</text>
<text x="1196.60" y="308.64" font-size="8.55" text-anchor="end" fill="#1a1a1a" stroke="#1a1a1a" stroke-width="0.1">4.210</text>
<text transform="translate(24.60 320.22) scale(0.953 1)" font-size="8.5" text-anchor="start" fill="#1a1a1a" stroke="#1a1a1a" stroke-width="0.12">Marche</text>
<text x="193.85" y="320.22" font-size="8.55" text-anchor="end" fill="#1a1a1a" stroke="#1a1a1a" stroke-width="0.1">568</text>
<text x="260.70" y="320.22" font-size="8.55" text-anchor="end" fill="#1a1a1a" stroke="#1a1a1a" stroke-width="0.1">88</text>
<text x="327.55" y="320.22" font-size="8.55" text-anchor="end" fill="#1a1a1a" stroke="#1a1a1a" stroke-width="0.1">2</text>
<text x="394.40" y="320.22" font-size="8.55" text-anchor="end" fill="#1a1a1a" stroke="#1a1a1a" stroke-width="0.1">6.730</text>
<text x="461.25" y="320.22" font-size="8.55" text-anchor="end" fill="#1a1a1a" stroke="#1a1a1a" stroke-width="0.1">7.386</text>
<text x="528.10" y="320.22" font-size="8.55" text-anchor="end" fill="#1a1a1a" stroke="#1a1a1a" stroke-width="0.1">84.392</text>
<text x="594.95" y="320.22" font-size="8.55" text-anchor="end" fill="#1a1a1a" stroke="#1a1a1a" stroke-width="0.1">2.859</text>
<text x="661.80" y="320.22" font-size="8.55" text-anchor="end" fill="#1a1a1a" stroke="#1a1a1a" stroke-width="0.1">94.637</text>
<text x="728.65" y="320.22" font-size="8.55" text-anchor="end" fill="#1a1a1a" stroke="#1a1a1a" stroke-width="0.1">0</text>
<text x="795.50" y="320.22" font-size="8.55" text-anchor="end" fill="#1a1a1a" stroke="#1a1a1a" stroke-width="0.1">94.637</text>
<text x="862.35" y="320.22" font-size="8.55" text-anchor="end" fill="#1a1a1a" stroke="#1a1a1a" stroke-width="0.1">137</text>
<text x="929.20" y="320.22" font-size="8.55" text-anchor="end" fill="#1a1a1a" stroke="#1a1a1a" stroke-width="0.1">652.275</text>
<text x="996.05" y="320.22" font-size="8.55" text-anchor="end" fill="#1a1a1a" stroke="#1a1a1a" stroke-width="0.1">973.656</text>
<text x="1062.90" y="320.22" font-size="8.55" text-anchor="end" fill="#1a1a1a" stroke="#1a1a1a" stroke-width="0.1">111.807</text>
<text x="1129.75" y="320.22" font-size="8.55" text-anchor="end" fill="#1a1a1a" stroke="#1a1a1a" stroke-width="0.1">1.085.463</text>
<text x="1196.60" y="320.22" font-size="8.55" text-anchor="end" fill="#1a1a1a" stroke="#1a1a1a" stroke-width="0.1">1.908</text>
<text transform="translate(24.60 331.80) scale(0.953 1)" font-size="8.5" text-anchor="start" fill="#1a1a1a" stroke="#1a1a1a" stroke-width="0.12">P.A. Bolzano</text>
<text x="193.85" y="331.80" font-size="8.55" text-anchor="end" fill="#1a1a1a" stroke="#1a1a1a" stroke-width="0.1">65</text>
<text x="260.70" y="331.80" font-size="8.55" text-anchor="end" fill="#1a1a1a" stroke="#1a1a1a" stroke-width="0.1">11</text>
<text x="327.55" y="331.80" font-size="8.55" text-anchor="end" fill="#1a1a1a" stroke="#1a1a1a" stroke-width="0.1">0</text>
<text x="394.40" y="331.80" font-size="8.55" text-anchor="end" fill="#1a1a1a" stroke="#1a1a1a" stroke-width="0.1">282</text>
<text x="461.25" y="331.80" font-size="8.55" text-anchor="end" fill="#1a1a1a" stroke="#1a1a1a" stroke-width="0.1">358</text>
<text x="528.10" y="331.80" font-size="8.55" text-anchor="end" fill="#1a1a1a" stroke="#1a1a1a" stroke-width="0.1">68.885</text>
<text x="594.95" y="331.80" font-size="8.55" text-anchor="end" fill="#1a1a1a" stroke="#1a1a1a" stroke-width="0.1">1.156</text>
<text x="661.80" y="331.80" font-size="8.55" text-anchor="end" fill="#1a1a1a" stroke="#1a1a1a" stroke-width="0.1">57.260</text>
<text x="728.65" y="331.80" font-size="8.55" text-anchor="end" fill="#1a1a1a" stroke="#1a1a1a" stroke-width="0.1">13.139</text>
<text x="795.50" y="331.80" font-size="8.55" text-anchor="end" fill="#1a1a1a" stroke="#1a1a1a" stroke-width="0.1">70.399</text>
<text x="862.35" y="331.80" font-size="8.55" text-anchor="end" fill="#1a1a1a" stroke="#1a1a1a" stroke-width="0.1">10</text>
<text x="929.20" y="331.80" font-size="8.55" text-anchor="end" fill="#1a1a1a" stroke="#1a1a1a" stroke-width="0.1">382.450</text>
<text x="996.05" y="331.80" font-size="8.55" text-anchor="end" fill="#1a1a1a" stroke="#1a1a1a" stroke-width="0.1">545.635</text>
<text x="1062.90" y="331.80" font-size="8.55" text-anchor="end" fill="#1a1a1a" stroke="#1a1a1a" stroke-width="0.1">732.559</text>
<text x="1129.75" y="331.80" font-size="8.55" text-anchor="end" fill="#1a1a1a" stroke="#1a1a1a" stroke-width="0.1">1.278.194</text>
<text x="1196.60" y="331.80" font-size="8.55" text-anchor="end" fill="#1a1a1a" stroke="#1a1a1a" stroke-width="0.1">1.484</text>
<text transform="translate(24.60 343.38) scale(0.953 1)" font-size="8.5" text-anchor="start" fill="#1a1a1a" stroke="#1a1a1a" stroke-width="0.12">Abruzzo</text>
<text x="193.85" y="343.38" font-size="8.55" text-anchor="end" fill="#1a1a1a" stroke="#1a1a1a" stroke-width="0.1">514</text>
<text x="260.70" y="343.38" font-size="8.55" text-anchor="end" fill="#1a1a1a" stroke="#1a1a1a" stroke-width="0.1">52</text>
<text x="327.55" y="343.38" font-size="8.55" text-anchor="end" fill="#1a1a1a" stroke="#1a1a1a" stroke-width="0.1">0</text>
<text x="394.40" y="343.38" font-size="8.55" text-anchor="end" fill="#1a1a1a" stroke="#1a1a1a" stroke-width="0.1">9.192</text>
<text x="461.25" y="343.38" font-size="8.55" text-anchor="end" fill="#1a1a1a" stroke="#1a1a1a" stroke-width="0.1">9.758</text>
<text x="528.10" y="343.38" font-size="8.55" text-anchor="end" fill="#1a1a1a" stroke="#1a1a1a" stroke-width="0.1">57.385</text>
<text x="594.95" y="343.38" font-size="8.55" text-anchor="end" fill="#1a1a1a" stroke="#1a1a1a" stroke-width="0.1">2.337</text>
<text x="661.80" y="343.38" font-size="8.55" text-anchor="end" fill="#1a1a1a" stroke="#1a1a1a" stroke-width="0.1">69.480</text>
<text x="728.65" y="343.38" font-size="8.55" text-anchor="end" fill="#1a1a1a" stroke="#1a1a1a" stroke-width="0.1">0</text>
<text x="795.50" y="343.38" font-size="8.55" text-anchor="end" fill="#1a1a1a" stroke="#1a1a1a" stroke-width="0.1">69.480</text>
<text x="862.35" y="343.38" font-size="8.55" text-anchor="end" fill="#1a1a1a" stroke="#1a1a1a" stroke-width="0.1">97</text>
<text x="929.20" y="343.38" font-size="8.55" text-anchor="end" fill="#1a1a1a" stroke="#1a1a1a" stroke-width="0.1">603.567</text>
<text x="996.05" y="343.38" font-size="8.55" text-anchor="end" fill="#1a1a1a" stroke="#1a1a1a" stroke-width="0.1">967.512</text>
<text x="1062.90" y="343.38" font-size="8.55" text-anchor="end" fill="#1a1a1a" stroke="#1a1a1a" stroke-width="0.1">384.359</text>
<text x="1129.75" y="343.38" font-size="8.55" text-anchor="end" fill="#1a1a1a" stroke="#1a1a1a" stroke-width="0.1">1.351.871</text>
<text x="1196.60" y="343.38" font-size="8.55" text-anchor="end" fill="#1a1a1a" stroke="#1a1a1a" stroke-width="0.1">3.002</text>
<text transform="translate(24.60 354.96) scale(0.953 1)" font-size="8.5" text-anchor="start" fill="#1a1a1a" stroke="#1a1a1a" stroke-width="0.12">Calabria</text>
<text x="193.85" y="354.96" font-size="8.55" text-anchor="end" fill="#1a1a1a" stroke="#1a1a1a" stroke-width="0.1">475</text>
<text x="260.70" y="354.96" font-size="8.55" text-anchor="end" fill="#1a1a1a" stroke="#1a1a1a" stroke-width="0.1">47</text>
<text x="327.55" y="354.96" font-size="8.55" text-anchor="end" fill="#1a1a1a" stroke="#1a1a1a" stroke-width="0.1">2</text>
<text x="394.40" y="354.96" font-size="8.55" text-anchor="end" fill="#1a1a1a" stroke="#1a1a1a" stroke-width="0.1">13.341</text>
<text x="461.25" y="354.96" font-size="8.55" text-anchor="end" fill="#1a1a1a" stroke="#1a1a1a" stroke-width="0.1">13.863</text>
<text x="528.10" y="354.96" font-size="8.55" text-anchor="end" fill="#1a1a1a" stroke="#1a1a1a" stroke-width="0.1">40.332</text>
<text x="594.95" y="354.96" font-size="8.55" text-anchor="end" fill="#1a1a1a" stroke="#1a1a1a" stroke-width="0.1">950</text>
<text x="661.80" y="354.96" font-size="8.55" text-anchor="end" fill="#1a1a1a" stroke="#1a1a1a" stroke-width="0.1">55.132</text>
<text x="728.65" y="354.96" font-size="8.55" text-anchor="end" fill="#1a1a1a" stroke="#1a1a1a" stroke-width="0.1">13</text>
<text x="795.50" y="354.96" font-size="8.55" text-anchor="end" fill="#1a1a1a" stroke="#1a1a1a" stroke-width="0.1">55.145</text>
<text x="862.35" y="354.96" font-size="8.55" text-anchor="end" fill="#1a1a1a" stroke="#1a1a1a" stroke-width="0.1">156</text>
<text x="929.20" y="354.96" font-size="8.55" text-anchor="end" fill="#1a1a1a" stroke="#1a1a1a" stroke-width="0.1">680.955</text>
<text x="996.05" y="354.96" font-size="8.55" text-anchor="end" fill="#1a1a1a" stroke="#1a1a1a" stroke-width="0.1">704.624</text>
<text x="1062.90" y="354.96" font-size="8.55" text-anchor="end" fill="#1a1a1a" stroke="#1a1a1a" stroke-width="0.1">24.227</text>
<text x="1129.75" y="354.96" font-size="8.55" text-anchor="end" fill="#1a1a1a" stroke="#1a1a1a" stroke-width="0.1">728.851</text>
<text x="1196.60" y="354.96" font-size="8.55" text-anchor="end" fill="#1a1a1a" stroke="#1a1a1a" stroke-width="0.1">1.787</text>
<text transform="translate(24.60 366.54) scale(0.953 1)" font-size="8.5" text-anchor="start" fill="#1a1a1a" stroke="#1a1a1a" stroke-width="0.12">Umbria</text>
<text x="193.85" y="366.54" font-size="8.55" text-anchor="end" fill="#1a1a1a" stroke="#1a1a1a" stroke-width="0.1">227</text>
<text x="260.70" y="366.54" font-size="8.55" text-anchor="end" fill="#1a1a1a" stroke="#1a1a1a" stroke-width="0.1">36</text>
<text x="327.55" y="366.54" font-size="8.55" text-anchor="end" fill="#1a1a1a" stroke="#1a1a1a" stroke-width="0.1">3</text>
<text x="394.40" y="366.54" font-size="8.55" text-anchor="end" fill="#1a1a1a" stroke="#1a1a1a" stroke-width="0.1">3.033</text>
<text x="461.25" y="366.54" font-size="8.55" text-anchor="end" fill="#1a1a1a" stroke="#1a1a1a" stroke-width="0.1">3.296</text>
<text x="528.10" y="366.54" font-size="8.55" text-anchor="end" fill="#1a1a1a" stroke="#1a1a1a" stroke-width="0.1">48.600</text>
<text x="594.95" y="366.54" font-size="8.55" text-anchor="end" fill="#1a1a1a" stroke="#1a1a1a" stroke-width="0.1">1.324</text>
<text x="661.80" y="366.54" font-size="8.55" text-anchor="end" fill="#1a1a1a" stroke="#1a1a1a" stroke-width="0.1">53.220</text>
<text x="728.65" y="366.54" font-size="8.55" text-anchor="end" fill="#1a1a1a" stroke="#1a1a1a" stroke-width="0.1">0</text>
<text x="795.50" y="366.54" font-size="8.55" text-anchor="end" fill="#1a1a1a" stroke="#1a1a1a" stroke-width="0.1">53.220</text>
<text x="862.35" y="366.54" font-size="8.55" text-anchor="end" fill="#1a1a1a" stroke="#1a1a1a" stroke-width="0.1">14</text>
<text x="929.20" y="366.54" font-size="8.55" text-anchor="end" fill="#1a1a1a" stroke="#1a1a1a" stroke-width="0.1">349.965</text>
<text x="996.05" y="366.54" font-size="8.55" text-anchor="end" fill="#1a1a1a" stroke="#1a1a1a" stroke-width="0.1">831.582</text>
<text x="1062.90" y="366.54" font-size="8.55" text-anchor="end" fill="#1a1a1a" stroke="#1a1a1a" stroke-width="0.1">257.836</text>
<text x="1129.75" y="366.54" font-size="8.55" text-anchor="end" fill="#1a1a1a" stroke="#1a1a1a" stroke-width="0.1">1.089.418</text>
<text x="1196.60" y="366.54" font-size="8.55" text-anchor="end" fill="#1a1a1a" stroke="#1a1a1a" stroke-width="0.1">1.445</text>
<text transform="translate(24.60 378.12) scale(0.953 1)" font-size="8.5" text-anchor="start" fill="#1a1a1a" stroke="#1a1a1a" stroke-width="0.12">Sardegna</text>
<text x="193.85" y="378.12" font-size="8.55" text-anchor="end" fill="#1a1a1a" stroke="#1a1a1a" stroke-width="0.1">367</text>
<text x="260.70" y="378.12" font-size="8.55" text-anchor="end" fill="#1a1a1a" stroke="#1a1a1a" stroke-width="0.1">61</text>
<text x="327.55" y="378.12" font-size="8.55" text-anchor="end" fill="#1a1a1a" stroke="#1a1a1a" stroke-width="0.1">4</text>
<text x="394.40" y="378.12" font-size="8.55" text-anchor="end" fill="#1a1a1a" stroke="#1a1a1a" stroke-width="0.1">17.579</text>
<text x="461.25" y="378.12" font-size="8.55" text-anchor="end" fill="#1a1a1a" stroke="#1a1a1a" stroke-width="0.1">18.007</text>
<text x="528.10" y="378.12" font-size="8.55" text-anchor="end" fill="#1a1a1a" stroke="#1a1a1a" stroke-width="0.1">32.417</text>
<text x="594.95" y="378.12" font-size="8.55" text-anchor="end" fill="#1a1a1a" stroke="#1a1a1a" stroke-width="0.1">1.318</text>
<text x="661.80" y="378.12" font-size="8.55" text-anchor="end" fill="#1a1a1a" stroke="#1a1a1a" stroke-width="0.1">51.725</text>
<text x="728.65" y="378.12" font-size="8.55" text-anchor="end" fill="#1a1a1a" stroke="#1a1a1a" stroke-width="0.1">17</text>
<text x="795.50" y="378.12" font-size="8.55" text-anchor="end" fill="#1a1a1a" stroke="#1a1a1a" stroke-width="0.1">51.742</text>
<text x="862.35" y="378.12" font-size="8.55" text-anchor="end" fill="#1a1a1a" stroke="#1a1a1a" stroke-width="0.1">199</text>
<text x="929.20" y="378.12" font-size="8.55" text-anchor="end" fill="#1a1a1a" stroke="#1a1a1a" stroke-width="0.1">661.099</text>
<text x="996.05" y="378.12" font-size="8.55" text-anchor="end" fill="#1a1a1a" stroke="#1a1a1a" stroke-width="0.1">789.456</text>
<text x="1062.90" y="378.12" font-size="8.55" text-anchor="end" fill="#1a1a1a" stroke="#1a1a1a" stroke-width="0.1">356.385</text>
<text x="1129.75" y="378.12" font-size="8.55" text-anchor="end" fill="#1a1a1a" stroke="#1a1a1a" stroke-width="0.1">1.145.841</text>
<text x="1196.60" y="378.12" font-size="8.55" text-anchor="end" fill="#1a1a1a" stroke="#1a1a1a" stroke-width="0.1">19.916</text>
<text transform="translate(24.60 389.70) scale(0.953 1)" font-size="8.5" text-anchor="start" fill="#1a1a1a" stroke="#1a1a1a" stroke-width="0.12">P.A. Trento</text>
<text x="193.85" y="389.70" font-size="8.55" text-anchor="end" fill="#1a1a1a" stroke="#1a1a1a" stroke-width="0.1">133</text>
<text x="260.70" y="389.70" font-size="8.55" text-anchor="end" fill="#1a1a1a" stroke="#1a1a1a" stroke-width="0.1">28</text>
<text x="327.55" y="389.70" font-size="8.55" text-anchor="end" fill="#1a1a1a" stroke="#1a1a1a" stroke-width="0.1">1</text>
<text x="394.40" y="389.70" font-size="8.55" text-anchor="end" fill="#1a1a1a" stroke="#1a1a1a" stroke-width="0.1">1.154</text>
<text x="461.25" y="389.70" font-size="8.55" text-anchor="end" fill="#1a1a1a" stroke="#1a1a1a" stroke-width="0.1">1.315</text>
<text x="528.10" y="389.70" font-size="8.55" text-anchor="end" fill="#1a1a1a" stroke="#1a1a1a" stroke-width="0.1">40.424</text>
<text x="594.95" y="389.70" font-size="8.55" text-anchor="end" fill="#1a1a1a" stroke="#1a1a1a" stroke-width="0.1">1.324</text>
<text x="661.80" y="389.70" font-size="8.55" text-anchor="end" fill="#1a1a1a" stroke="#1a1a1a" stroke-width="0.1">31.514</text>
<text x="728.65" y="389.70" font-size="8.55" text-anchor="end" fill="#1a1a1a" stroke="#1a1a1a" stroke-width="0.1">11.549</text>
<text x="795.50" y="389.70" font-size="8.55" text-anchor="end" fill="#1a1a1a" stroke="#1a1a1a" stroke-width="0.1">43.063</text>
<text x="862.35" y="389.70" font-size="8.55" text-anchor="end" fill="#1a1a1a" stroke="#1a1a1a" stroke-width="0.1">13</text>
<text x="929.20" y="389.70" font-size="8.55" text-anchor="end" fill="#1a1a1a" stroke="#1a1a1a" stroke-width="0.1">188.782</text>
<text x="996.05" y="389.70" font-size="8.55" text-anchor="end" fill="#1a1a1a" stroke="#1a1a1a" stroke-width="0.1">624.769</text>
<text x="1062.90" y="389.70" font-size="8.55" text-anchor="end" fill="#1a1a1a" stroke="#1a1a1a" stroke-width="0.1">116.889</text>
<text x="1129.75" y="389.70" font-size="8.55" text-anchor="end" fill="#1a1a1a" stroke="#1a1a1a" stroke-width="0.1">741.658</text>
<text x="1196.60" y="389.70" font-size="8.55" text-anchor="end" fill="#1a1a1a" stroke="#1a1a1a" stroke-width="0.1">636</text>
<text transform="translate(24.60 401.28) scale(0.953 1)" font-size="8.5" text-anchor="start" fill="#1a1a1a" stroke="#1a1a1a" stroke-width="0.12">Basilicata</text>
<text x="193.85" y="401.28" font-size="8.55" text-anchor="end" fill="#1a1a1a" stroke="#1a1a1a" stroke-width="0.1">168</text>
<text x="260.70" y="401.28" font-size="8.55" text-anchor="end" fill="#1a1a1a" stroke="#1a1a1a" stroke-width="0.1">13</text>
<text x="327.55" y="401.28" font-size="8.55" text-anchor="end" fill="#1a1a1a" stroke="#1a1a1a" stroke-width="0.1">0</text>
<text x="394.40" y="401.28" font-size="8.55" text-anchor="end" fill="#1a1a1a" stroke="#1a1a1a" stroke-width="0.1">5.565</text>
<text x="461.25" y="401.28" font-size="8.55" text-anchor="end" fill="#1a1a1a" stroke="#1a1a1a" stroke-width="0.1">5.746</text>
<text x="528.10" y="401.28" font-size="8.55" text-anchor="end" fill="#1a1a1a" stroke="#1a1a1a" stroke-width="0.1">16.011</text>
<text x="594.95" y="401.28" font-size="8.55" text-anchor="end" fill="#1a1a1a" stroke="#1a1a1a" stroke-width="0.1">497</text>
<text x="661.80" y="401.28" font-size="8.55" text-anchor="end" fill="#1a1a1a" stroke="#1a1a1a" stroke-width="0.1">22.254</text>
<text x="728.65" y="401.28" font-size="8.55" text-anchor="end" fill="#1a1a1a" stroke="#1a1a1a" stroke-width="0.1">0</text>
<text x="795.50" y="401.28" font-size="8.55" text-anchor="end" fill="#1a1a1a" stroke="#1a1a1a" stroke-width="0.1">22.254</text>
<text x="862.35" y="401.28" font-size="8.55" text-anchor="end" fill="#1a1a1a" stroke="#1a1a1a" stroke-width="0.1">47</text>
<text x="929.20" y="401.28" font-size="8.55" text-anchor="end" fill="#1a1a1a" stroke="#1a1a1a" stroke-width="0.1">179.558</text>
<text x="996.05" y="401.28" font-size="8.55" text-anchor="end" fill="#1a1a1a" stroke="#1a1a1a" stroke-width="0.1">305.452</text>
<text x="1062.90" y="401.28" font-size="8.55" text-anchor="end" fill="#1a1a1a" stroke="#1a1a1a" stroke-width="0.1">13.382</text>
<text x="1129.75" y="401.28" font-size="8.55" text-anchor="end" fill="#1a1a1a" stroke="#1a1a1a" stroke-width="0.1">318.834</text>
<text x="1196.60" y="401.28" font-size="8.55" text-anchor="end" fill="#1a1a1a" stroke="#1a1a1a" stroke-width="0.1">409</text>
<text transform="translate(24.60 412.86) scale(0.953 1)" font-size="8.5" text-anchor="start" fill="#1a1a1a" stroke="#1a1a1a" stroke-width="0.12">Molise</text>
<text x="193.85" y="412.86" font-size="8.55" text-anchor="end" fill="#1a1a1a" stroke="#1a1a1a" stroke-width="0.1">41</text>
<text x="260.70" y="412.86" font-size="8.55" text-anchor="end" fill="#1a1a1a" stroke="#1a1a1a" stroke-width="0.1">14</text>
<text x="327.55" y="412.86" font-size="8.55" text-anchor="end" fill="#1a1a1a" stroke="#1a1a1a" stroke-width="0.1">0</text>
<text x="394.40" y="412.86" font-size="8.55" text-anchor="end" fill="#1a1a1a" stroke="#1a1a1a" stroke-width="0.1">587</text>
<text x="461.25" y="412.86" font-size="8.55" text-anchor="end" fill="#1a1a1a" stroke="#1a1a1a" stroke-width="0.1">642</text>
<text x="528.10" y="412.86" font-size="8.55" text-anchor="end" fill="#1a1a1a" stroke="#1a1a1a" stroke-width="0.1">11.778</text>
<text x="594.95" y="412.86" font-size="8.55" text-anchor="end" fill="#1a1a1a" stroke="#1a1a1a" stroke-width="0.1">465</text>
<text x="661.80" y="412.86" font-size="8.55" text-anchor="end" fill="#1a1a1a" stroke="#1a1a1a" stroke-width="0.1">12.885</text>
<text x="728.65" y="412.86" font-size="8.55" text-anchor="end" fill="#1a1a1a" stroke="#1a1a1a" stroke-width="0.1">0</text>
<text x="795.50" y="412.86" font-size="8.55" text-anchor="end" fill="#1a1a1a" stroke="#1a1a1a" stroke-width="0.1">12.885</text>
<text x="862.35" y="412.86" font-size="8.55" text-anchor="end" fill="#1a1a1a" stroke="#1a1a1a" stroke-width="0.1">7</text>
<text x="929.20" y="412.86" font-size="8.55" text-anchor="end" fill="#1a1a1a" stroke="#1a1a1a" stroke-width="0.1">175.731</text>
<text x="996.05" y="412.86" font-size="8.55" text-anchor="end" fill="#1a1a1a" stroke="#1a1a1a" stroke-width="0.1">194.795</text>
<text x="1062.90" y="412.86" font-size="8.55" text-anchor="end" fill="#1a1a1a" stroke="#1a1a1a" stroke-width="0.1">293</text>
<text x="1129.75" y="412.86" font-size="8.55" text-anchor="end" fill="#1a1a1a" stroke="#1a1a1a" stroke-width="0.1">195.088</text>
<text x="1196.60" y="412.86" font-size="8.55" text-anchor="end" fill="#1a1a1a" stroke="#1a1a1a" stroke-width="0.1">240</text>
<text transform="translate(24.60 424.44) scale(0.953 1)" font-size="8.5" text-anchor="start" fill="#1a1a1a" stroke="#1a1a1a" stroke-width="0.12">Valle d&#39;Aosta</text>
<text x="193.85" y="424.44" font-size="8.55" text-anchor="end" fill="#1a1a1a" stroke="#1a1a1a" stroke-width="0.1">60</text>
<text x="260.70" y="424.44" font-size="8.55" text-anchor="end" fill="#1a1a1a" stroke="#1a1a1a" stroke-width="0.1">13</text>
<text x="327.55" y="424.44" font-size="8.55" text-anchor="end" fill="#1a1a1a" stroke="#1a1a1a" stroke-width="0.1">1</text>
<text x="394.40" y="424.44" font-size="8.55" text-anchor="end" fill="#1a1a1a" stroke="#1a1a1a" stroke-width="0.1">906</text>
<text x="461.25" y="424.44" font-size="8.55" text-anchor="end" fill="#1a1a1a" stroke="#1a1a1a" stroke-width="0.1">979</text>
<text x="528.10" y="424.44" font-size="8.55" text-anchor="end" fill="#1a1a1a" stroke="#1a1a1a" stroke-width="0.1">9.015</text>
<text x="594.95" y="424.44" font-size="8.55" text-anchor="end" fill="#1a1a1a" stroke="#1a1a1a" stroke-width="0.1">439</text>
<text x="661.80" y="424.44" font-size="8.55" text-anchor="end" fill="#1a1a1a" stroke="#1a1a1a" stroke-width="0.1">10.023</text>
<text x="728.65" y="424.44" font-size="8.55" text-anchor="end" fill="#1a1a1a" stroke="#1a1a1a" stroke-width="0.1">410</text>
<text x="795.50" y="424.44" font-size="8.55" text-anchor="end" fill="#1a1a1a" stroke="#1a1a1a" stroke-width="0.1">10.433</text>
<text x="862.35" y="424.44" font-size="8.55" text-anchor="end" fill="#1a1a1a" stroke="#1a1a1a" stroke-width="0.1">67</text>
<text x="929.20" y="424.44" font-size="8.55" text-anchor="end" fill="#1a1a1a" stroke="#1a1a1a" stroke-width="0.1">55.832</text>
<text x="996.05" y="424.44" font-size="8.55" text-anchor="end" fill="#1a1a1a" stroke="#1a1a1a" stroke-width="0.1">86.831</text>
<text x="1062.90" y="424.44" font-size="8.55" text-anchor="end" fill="#1a1a1a" stroke="#1a1a1a" stroke-width="0.1">20.739</text>
<text x="1129.75" y="424.44" font-size="8.55" text-anchor="end" fill="#1a1a1a" stroke="#1a1a1a" stroke-width="0.1">107.570</text>
<text x="1196.60" y="424.44" font-size="8.55" text-anchor="end" fill="#1a1a1a" stroke="#1a1a1a" stroke-width="0.1">312</text>
<text x="75.65" y="439.20" font-size="8.2" text-anchor="middle" font-weight="bold" fill="#111" stroke="#111" textLength="27.8" lengthAdjust="spacingAndGlyphs">TOTALE</text>
<text x="193.85" y="439.20" font-size="8.6" text-anchor="end" font-weight="bold" fill="#111" stroke="#111">23.742</text>
<text x="260.70" y="439.20" font-size="8.6" text-anchor="end" font-weight="bold" fill="#111" stroke="#111">3.244</text>
<text x="327.55" y="439.20" font-size="8.6" text-anchor="end" font-weight="bold" fill="#111" stroke="#111">141</text>
<text x="394.40" y="439.20" font-size="8.6" text-anchor="end" font-weight="bold" fill="#111" stroke="#111">466.503</text>
<text x="461.25" y="439.20" font-size="8.6" text-anchor="end" font-weight="bold" fill="#111" stroke="#111">493.489</text>
<text x="528.10" y="439.20" font-size="8.6" text-anchor="end" font-weight="bold" fill="#111" stroke="#111">3.268.262</text>
<text x="594.95" y="439.20" font-size="8.6" text-anchor="end" font-weight="bold" fill="#111" stroke="#111">117.243</text>
<text x="661.80" y="439.20" font-size="8.6" text-anchor="end" font-weight="bold" fill="#111" stroke="#111">3.749.244</text>
<text x="728.65" y="439.20" font-size="8.6" text-anchor="end" font-weight="bold" fill="#111" stroke="#111">129.750</text>
<text x="795.50" y="439.20" font-size="8.6" text-anchor="end" font-weight="bold" fill="#111" stroke="#111">3.878.994</text>
<text x="862.35" y="439.20" font-size="8.6" text-anchor="end" font-weight="bold" fill="#111" stroke="#111">8.864</text>
<text x="929.20" y="439.20" font-size="8.6" text-anchor="end" font-weight="bold" fill="#111" stroke="#111">24.596.625</text>
<text x="996.05" y="439.20" font-size="8.6" text-anchor="end" font-weight="bold" fill="#111" stroke="#111">43.335.684</text>
<text x="1062.90" y="439.20" font-size="8.6" text-anchor="end" font-weight="bold" fill="#111" stroke="#111">11.905.488</text>
<text x="1129.75" y="439.20" font-size="8.6" text-anchor="end" font-weight="bold" fill="#111" stroke="#111">55.241.172</text>
<text x="1196.60" y="439.20" font-size="8.6" text-anchor="end" font-weight="bold" fill="#111" stroke="#111">146.728</text>
</svg>
</body></html>
